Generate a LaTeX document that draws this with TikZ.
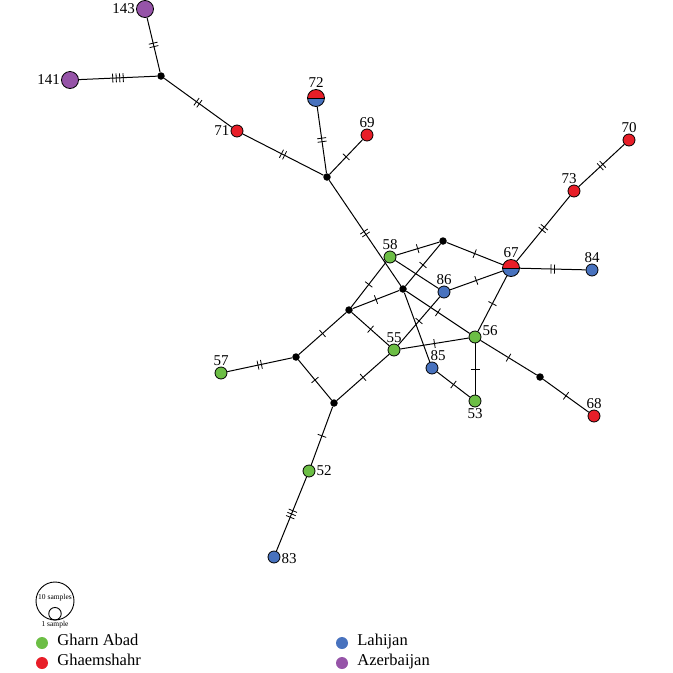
\documentclass[tikz,border=0pt]{standalone}
\usepackage{fontspec}
\setmainfont{Liberation Serif}
\usetikzlibrary{decorations.markings}

\definecolor{gharn}{RGB}{108,190,69}
\definecolor{ghaem}{RGB}{232,30,40}
\definecolor{lahij}{RGB}{72,114,190}
\definecolor{azer}{RGB}{150,84,168}

\tikzset{hap/.style={circle, draw, line width=0.8pt, inner sep=0pt, minimum size=12pt},
  big/.style={hap, minimum size=17pt},
  dot/.style={circle, fill=black, inner sep=0pt, minimum size=7.5pt},
  split/.style={big, path picture={
      \fill[ghaem] (path picture bounding box.west) rectangle (path picture bounding box.north east);
      \fill[lahij] (path picture bounding box.west) rectangle (path picture bounding box.south east);
      \draw[line width=0.8pt] (path picture bounding box.west) -- (path picture bounding box.east);}},
  link/.style={line width=1pt},
  mut/.style={link, postaction={decorate, decoration={markings,
      mark=at position 0.5 with {
        \foreach \k in {1,...,#1} {\draw[line width=0.8pt] ({(\k-(#1+1)/2)*3.5pt},-4.5pt) -- ++(0,9pt);}
      }}}},
  every label/.style={font=\fontsize{15}{17}\selectfont, inner sep=1pt},
  keytext/.style={font=\fontsize{16.5}{18}\selectfont, anchor=west, inner sep=0pt, text height=1.5ex, text depth=0.25ex}}

\begin{document}
\begin{tikzpicture}[x=1pt, y=-1pt]
    \useasboundingbox (0,0) rectangle (673,673);

    % haplotypes
    \node[big, fill=azer, label=left:143] (n143) at (145,9) {};
    \node[big, fill=azer, label=left:141] (n141) at (70,80) {};
    \node[hap, fill=ghaem, label=left:71] (n71) at (237,131) {};
    \node[split, label=above:72] (n72) at (316,98) {};
    \node[hap, fill=ghaem, label=above:69] (n69) at (367,135) {};
    \node[hap, fill=gharn, label=above:58] (n58) at (390,257) {};
    \node[split, label=above:67] (n67) at (511,268) {};
    \node[hap, fill=lahij, label=above:86] (n86) at (444,292) {};
    \node[hap, fill=gharn, label=above:55] (n55) at (394,350) {};
    \node[hap, fill=gharn, label={[anchor=south west]east:56}] (n56) at (475,337) {};
    \node[hap, fill=lahij, label={[xshift=6pt]above:85}] (n85) at (432,368) {};
    \node[hap, fill=gharn, label=above:57] (n57) at (221,373) {};
    \node[hap, fill=gharn, label=right:52] (n52) at (309,471) {};
    \node[hap, fill=lahij, label={[yshift=-2pt]right:83}] (n83) at (274,557) {};
    \node[hap, fill=gharn, label=below:53] (n53) at (475,401) {};
    \node[hap, fill=ghaem, label=above:68] (n68) at (594,416) {};
    \node[hap, fill=lahij, label=above:84] (n84) at (592,270) {};
    \node[hap, fill=ghaem, label={[xshift=-5pt]above:73}] (n73) at (574,191) {};
    \node[hap, fill=ghaem, label=above:70] (n70) at (629,140) {};

    % median vectors
    \node[dot] (jA) at (161,76) {};
    \node[dot] (jB) at (327,177) {};
    \node[dot] (jC) at (403,289) {};
    \node[dot] (jD) at (443,241) {};
    \node[dot] (jE) at (349,310) {};
    \node[dot] (jF) at (296,357) {};
    \node[dot] (jG) at (334,403) {};
    \node[dot] (jH) at (540,377) {};

    \draw[mut=2] (n143) -- (jA);
    \draw[mut=4] (n141) -- (jA);
    \draw[mut=2] (jA) -- (n71);
    \draw[mut=2] (n71) -- (jB);
    \draw[mut=2] (n72) -- (jB);
    \draw[mut=1] (n69) -- (jB);
    \draw[mut=2] (jB) -- (jC);

    \draw[mut=1] (n58) -- (jD);
    \draw[mut=1] (jD) -- (n67);
    \draw[mut=1] (jD) -- (jC);
    \draw[link] (n58) -- (n86);
    \draw[mut=1] (n58) -- (jE);
    \draw[mut=1] (jE) -- (jC);
    \draw[mut=1] (jE) -- (n55);
    \draw[mut=1] (n86) -- (n67);
    \draw[mut=1] (n86) -- (n55);
    \draw[mut=1] (jC) -- (n56);
    \draw[link] (jC) -- (n85);
    \draw[mut=1] (n55) -- (n56);
    \draw[mut=1] (n67) -- (n56);

    \draw[mut=2] (n67) -- (n73);
    \draw[mut=2] (n73) -- (n70);
    \draw[mut=2] (n67) -- (n84);
    \draw[mut=1] (n56) -- (n53);
    \draw[mut=1] (n85) -- (n53);
    \draw[mut=1] (n56) -- (jH);
    \draw[mut=1] (jH) -- (n68);

    \draw[mut=1] (jE) -- (jF);
    \draw[mut=1] (jF) -- (jG);
    \draw[mut=1] (jG) -- (n55);
    \draw[mut=2] (jF) -- (n57);
    \draw[mut=1] (jG) -- (n52);
    \draw[mut=3] (n52) -- (n83);

    % legend
    \node[circle, draw, line width=0.9pt, inner sep=0pt, minimum size=38pt] (ten) at (55,601) {};
    \node[font=\fontsize{7.5}{8}\selectfont, inner sep=0pt] (tenlbl) at (55,598) {10 samples};
    \node[circle, draw, line width=0.9pt, inner sep=0pt, minimum size=12.5pt] (one) at (55,613.7) {};
    \node[font=\fontsize{7.5}{8}\selectfont, inner sep=0pt, anchor=north] (onelbl) at ([yshift=-1pt]one.south) {1 sample};

    \node[circle, fill=gharn, inner sep=0pt, minimum size=12pt] (kgharn) at (42,643) {};
    \node[keytext] (lgharn) at ([xshift=9pt]kgharn.east) {Gharn Abad};
    \node[circle, fill=ghaem, inner sep=0pt, minimum size=12pt] (kghaem) at (42,663) {};
    \node[keytext] (lghaem) at ([xshift=9pt]kghaem.east) {Ghaemshahr};
    \node[circle, fill=lahij, inner sep=0pt, minimum size=12pt] (klahij) at (342,643) {};
    \node[keytext] (llahij) at ([xshift=9pt]klahij.east) {Lahijan};
    \node[circle, fill=azer, inner sep=0pt, minimum size=12pt] (kazer) at (342,663) {};
    \node[keytext] (lazer) at ([xshift=9pt]kazer.east) {Azerbaijan};
\end{tikzpicture}
\end{document}
